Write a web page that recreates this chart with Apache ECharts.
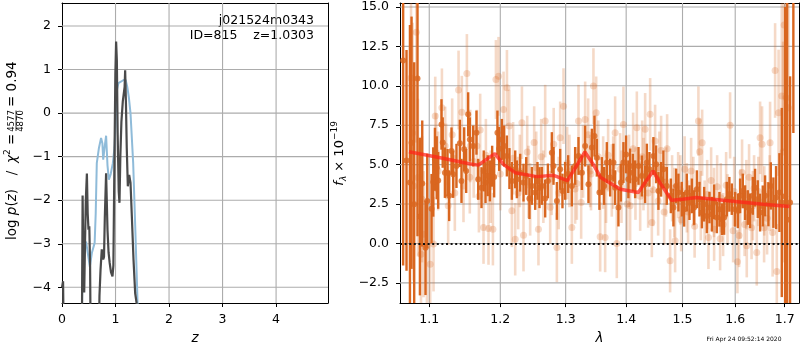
<!DOCTYPE html>
<html><head><meta charset="utf-8">
<script src="https://cdn.jsdelivr.net/npm/echarts@6/dist/echarts.min.js"></script>
<style>html,body{margin:0;padding:0;background:#fff}#c{width:800px;height:350px}</style>
</head><body><div id="c"></div>
<script>
// ---------- tick labels ----------
const zTicks = [0, 1, 2, 3, 4];
const logpTicks = [-4, -3, -2, -1, 0, 1, 2];
const lamTicks = [1.1, 1.2, 1.3, 1.4, 1.5, 1.6, 1.7];
const fluxTicks = [-2.5, 0, 2.5, 5, 7.5, 10, 12.5, 15];

// ---------- left panel: log p(z) ----------
const zBlue = [0.36,0.375,0.39,0.42,0.45,0.48,0.52,0.56,0.61,0.63,0.65,0.69,0.73,0.755,0.77,0.795,0.824,0.85,0.875,0.91,0.95,0.98,1.0,1.02,1.055,1.1,1.15,1.19,1.22,1.25,1.28,1.33,1.37,1.41,1.43];
const logpBlue = [-6,-4.3,-3.36,-3.1,-2.95,-3.2,-3.53,-3.2,-2.98,-2.3,-1.15,-0.8,-0.57,-0.7,-1.07,-0.8,-0.52,-1.2,-1.53,-1.4,-1.15,-0.8,-0.3,0.5,0.69,0.72,0.76,0.76,0.6,0.35,0.0,-1.15,-2.68,-4.28,-6];
const zDark = [0.0,0.02,0.04,0.36,0.375,0.385,0.40,0.415,0.43,0.445,0.465,0.48,0.495,0.51,0.525,0.54,0.68,0.70,0.72,0.743,0.77,0.785,0.80,0.824,0.85,0.87,0.89,0.915,0.943,0.96,0.978,0.997,1.011,1.025,1.04,1.06,1.074,1.09,1.11,1.136,1.155,1.17,1.18,1.195,1.21,1.23,1.255,1.28,1.305,1.336,1.367,1.398,1.42];
const logpDark = [-4.0,-3.86,-6,-6,-4.3,-1.89,-3.5,-4.12,-3.0,-2.0,-1.39,-2.3,-2.68,-2.6,-3.5,-6,-6,-4.2,-3.6,-3.13,-3.36,-3.3,-2.4,-1.38,-2.68,-3.2,-3.43,-3.65,-3.75,-3.5,-1.3,0.9,1.64,1.2,-0.5,-1.8,-2.06,-1.0,-0.2,0.27,0.3,0.6,0.98,0.2,-0.8,-1.68,-1.42,-1.6,-2.37,-3.36,-4.13,-4.4,-6];

// ---------- right panel: spectrum (dark points) ----------
const lamA = [1.0654,1.0698,1.0743,1.0764,1.0799,1.0843,1.0875,1.0906,1.0950,1.0973,
1.1031,1.1054,1.1077,1.1101,1.1121,1.1166,1.1183,1.1213,1.1249,1.1272,
1.1304,1.1327,1.1373,1.1420,1.1443,1.1481,1.1509,1.1537,1.1561,1.1608,
1.1655,1.1680,1.1727,1.1759,1.1785,1.1816,1.1848,1.1881,1.1910,1.1958,
1.1983,1.2023,1.2057,1.2097,1.2135,1.2171,1.2221,1.2246,1.2296,1.2346,
1.2387,1.2436,1.2473,1.2524,1.2559,1.2590,1.2627,1.2678,1.2720,1.2782,
1.2808,1.2861,1.2913,1.2949,1.2992,1.3040,1.3099,1.3152,1.3206,1.3261,
1.3314,1.3368,1.3424,1.3467,1.3506,1.3549,1.3589,1.3627,1.3672,1.3728,
1.3783,1.3812,1.3868,1.3909,1.3953,1.3999,1.4038,1.4068,1.4115,1.4155,
1.4213,1.4272,1.4329,1.4359,1.4405,1.4475,1.4523,1.4564,1.4612,1.4653,
1.4714,1.4787,1.4834,1.4883,1.4925,1.4987,1.5030,1.5079,1.5128,1.5173,
1.5215,1.5266,1.5315,1.5360,1.5403,1.5454,1.5503,1.5549,1.5592,1.5644,
1.5694,1.5740,1.5784,1.5836,1.5886,1.5933,1.5998,1.6051,1.6096,1.6149,
1.6195,1.6248,1.6294,1.6348,1.6394,1.6448,1.6495,1.6549,1.6596,1.6664,
1.6713,1.6766,1.6821,1.6890,1.6939,1.7008,1.7050,1.7112,1.7181];
const fluxA = [11.6,5.27,3.86,6.39,2.49,10.46,1.71,3.8,-0.27,2.7,
2.21,3.9,5.34,4.8,4.0,7.55,6.4,4.49,4.49,3.02,
5.86,4.39,4.92,6.35,3.97,5.97,4.6,8.19,6.6,6.18,
7.03,4.07,3.54,4.6,3.86,4.3,3.97,4.9,4.22,7.03,
6.0,6.6,6.18,5.55,4.75,3.97,4.7,4.07,4.49,3.86,
4.28,2.85,3.65,3.23,3.97,3.54,3.65,2.85,3.97,5.76,
4.92,2.7,4.7,3.33,3.97,4.4,3.65,4.92,5.55,4.49,
6.18,3.76,6.08,6.81,5.44,3.23,4.28,3.65,5.13,4.18,
5.13,3.54,2.28,3.86,5.13,5.65,4.07,4.92,4.49,4.07,
4.92,4.28,3.76,5.13,4.7,5.55,5.02,3.33,4.07,4.7,
3.65,3.02,2.28,3.65,3.23,2.81,2.17,3.23,2.59,3.02,
2.28,3.44,2.81,1.96,2.49,1.75,2.28,1.86,2.64,1.65,
2.17,1.54,1.65,2.81,3.12,2.81,2.17,2.07,3.02,3.33,
2.59,2.28,2.07,3.02,3.54,2.81,1.96,2.38,3.02,2.49,
3.65,2.59,2.91,3.23,2.6,3.0,1.5,2.6,16];
const errA = [13,7,10,8,9,10,5,4,3,3,
2.2,2.2,2,2,1.8,1.6,1.6,1.6,1.5,1.6,
1.5,1.5,1.4,1.5,1.4,1.4,1.4,1.4,1.4,1.3,
1.4,1.3,1.3,1.3,1.3,1.3,1.3,1.3,1.3,1.4,
1.4,1.3,1.3,1.3,1.3,1.2,1.2,1.2,1.2,1.2,
1.2,1.3,1.2,1.1,1.2,1.3,1.2,1.2,1.1,1.3,
1.2,1.2,1.3,1.1,1.2,1.2,1.3,1.2,1.2,1.1,
1.3,1.2,1.2,1.3,1.2,1.1,1.2,1.2,1.3,1.2,
1.2,1.1,1.2,1.2,1.3,1.2,1.2,1.1,1.2,1.2,
1.2,1.3,1.2,1.2,1.1,1.2,1.2,1.2,1.1,1.2,
1.2,1.1,1.2,1.1,1.2,1.1,1.1,1.2,1.1,1.1,
1.1,1.2,1.1,1.0,1.1,1.1,1.0,1.1,1.1,1.0,
1.1,1.0,1.1,1.1,1.1,1.0,1.1,1.1,1.1,1.1,
1.1,1.1,1.1,1.2,1.2,1.2,1.2,1.3,1.3,1.4,
1.5,1.6,2.0,2.5,6,12,14,8,9];

// ---------- right panel: spectrum (light points) ----------
const lamB = [1.0757,1.0778,1.0791,1.0827,1.0849,1.0889,1.0903,1.0924,1.0969,1.1013,
1.1058,1.1081,1.1094,1.1172,1.1217,1.1258,1.1313,1.1402,1.1448,1.1471,
1.1519,1.1566,1.1615,1.1661,1.1708,1.1756,1.1828,1.1892,1.1936,1.1974,
1.2048,1.2098,1.2132,1.2171,1.2221,1.2266,1.2322,1.2346,1.2402,1.2447,
1.2508,1.2574,1.2616,1.2678,1.2756,1.2811,1.2861,1.2913,1.2966,1.3024,
1.3099,1.3152,1.3206,1.3249,1.3314,1.3363,1.3396,1.3450,1.3495,1.3561,
1.3611,1.3644,1.3694,1.3756,1.3812,1.3840,1.3897,1.3953,1.4016,1.4068,
1.4120,1.4184,1.4242,1.4277,1.4329,1.4382,1.4417,1.4447,1.4505,1.4559,
1.4612,1.4666,1.4720,1.4774,1.4810,1.4865,1.4920,1.4975,1.5039,1.5103,
1.5159,1.5224,1.5295,1.5318,1.5365,1.5412,1.5484,1.5535,1.5592,1.5650,
1.5707,1.5765,1.5823,1.5900,1.5959,1.6043,1.6076,1.6135,1.6185,1.6228,
1.6274,1.6324,1.6374,1.6428,1.6495,1.6535,1.6576,1.6637,1.6698,1.6750,
1.6801,1.6836,1.6873,1.6939,1.6966,1.6987,1.7029,1.7077,
1.1120,1.1230,1.1350,1.1560,1.1690,1.1790,1.1860,1.2000,1.2190,1.2290,
1.2420,1.2540,1.2650,1.2780,1.2890,1.3060,1.3180,1.3280,1.3410,1.3530,
1.3660,1.3780,1.3920,1.4050,1.4160,1.4300,1.4470,1.4580,1.4700,1.4850,
1.4960,1.5080,1.5200,1.5340,1.5460,1.5590,1.5720,1.5850,1.5980,1.6100,
1.6220,1.6350,1.6460,1.6580,1.6690];
const fluxB = [10.5,7.0,3.65,13.4,4.18,-0.68,2.8,0.59,-0.15,-1.31,
-0.04,8.08,5.76,8.6,6.18,2.4,6.9,9.73,8.33,3.65,
10.78,6.18,5.2,6.18,7.2,1.01,0.95,0.91,10.4,10.6,
8.5,9.87,7.45,2.07,0.27,3.2,7.66,0.53,5.8,2.8,
6.4,0.91,5.5,7.76,2.3,6.3,-0.25,6.7,8.71,5.1,
1.01,3.45,7.76,2.6,7.87,6.9,4.6,9.98,8.29,0.42,
4.5,0.38,5.6,4.0,7.03,0.0,4.7,7.55,2.5,2.4,
6.0,7.34,3.0,5.5,7.24,3.2,8.19,1.33,6.5,2.7,
5.9,2.0,6.0,-1.1,3.5,0.17,3.7,1.5,4.7,2.0,
4.6,1.1,7.76,5.82,6.39,2.0,0.38,4.0,0.9,3.6,
0.3,1.2,3.7,7.49,0.8,-1.16,0.5,4.5,1.2,-0.15,
4.2,1.0,3.5,-0.57,6.7,6.3,1.0,1.6,6.39,0.7,
10.97,-1.77,8.29,9.35,5.8,13.86,9.24,8.6,
4.6,5.2,3.2,4.2,3.0,5.6,3.6,4.4,5.4,4.6,
3.9,4.8,3.6,4.1,3.2,4.6,3.8,5.2,4.4,5.5,
3.6,4.5,3.6,4.6,3.8,4.4,3.4,4.8,3.9,2.6,
3.4,2.9,3.3,2.4,3.1,2.6,2.9,2.2,3.3,2.5,
3.1,2.4,3.3,2.7,3.2];
const errB = [6,7,6,7,5,4,4,4,4,3.5,
3,2.5,2.5,2.5,2.5,2.5,2.3,2.5,2.3,2.3,
2.5,2.3,2.3,2.3,2.3,2.3,2.3,2.3,2.5,2.5,
2.4,2.4,2.3,2.3,2.3,2.3,2.3,2.3,2.3,2.3,
2.3,2.3,2.4,2.3,2.3,2.3,2.2,2.3,2.4,2.3,
2.3,2.2,2.3,2.3,2.4,2.3,2.3,2.4,2.3,2.2,
2.3,2.2,2.3,2.3,2.3,2.2,2.3,2.4,2.3,2.2,
2.3,2.3,2.2,2.3,2.3,2.2,2.3,2.2,2.3,2.2,
2.2,2.1,2.2,2.0,2.1,2.0,2.1,2.0,2.1,2.0,
2.1,2.0,2.2,2.1,2.1,2.0,2.0,2.1,2.0,2.0,
2.0,2.0,2.1,2.1,2.0,2.0,2.0,2.1,2.0,2.0,
2.1,2.0,2.1,2.1,2.3,2.4,2.2,2.3,2.6,2.8,
3,3,4,6,7,8,8,7,
2.5,2.4,2.4,2.3,2.3,2.3,2.3,2.3,2.3,2.3,
2.3,2.3,2.3,2.3,2.3,2.3,2.3,2.3,2.3,2.3,
2.3,2.3,2.3,2.3,2.3,2.3,2.3,2.3,2.2,2.2,
2.2,2.2,2.2,2.2,2.2,2.2,2.2,2.2,2.2,2.2,
2.2,2.2,2.2,2.2,2.4];

// ---------- right panel: model ----------
const lamModel = [1.073,1.115,1.157,1.168,1.192,1.205,1.222,1.255,1.281,1.303,1.331,1.345,1.357,1.39,1.421,1.447,1.459,1.48,1.50,1.526,1.59,1.656,1.71];
const fluxModel = [5.82,5.44,5.04,4.97,5.70,5.0,4.49,4.24,4.32,3.99,5.80,5.0,4.18,3.44,3.23,4.6,3.86,2.74,2.80,2.91,2.70,2.49,2.34];

// ---------- build ----------
const FONT = 'DejaVu Sans';
const minus = s => String(s).replace('-', '\u2212');
const zip2 = (a, b) => a.map((v, i) => [v, b[i]]);
const zip3 = (a, b, c) => a.map((v, i) => [v, b[i], c[i]]);

const darkOrange = '#d9661f';
const lightBar = 'rgba(217,102,31,0.25)';
const lightDot = 'rgba(217,102,31,0.30)';
const GRIDC = 'rgb(172,172,172)';

function errBars(data, color, width, z) {
  return {
    type: 'custom', xAxisIndex: 1, yAxisIndex: 1, clip: true, silent: true, z: z,
    data: data, encode: { x: 0, y: 1 },
    renderItem: function (params, api) {
      const x = api.value(0), y = api.value(1), e = api.value(2);
      const p1 = api.coord([x, y - e]), p2 = api.coord([x, y + e]);
      return { type: 'line', shape: { x1: p1[0], y1: p1[1], x2: p2[0], y2: p2[1] },
               style: { stroke: color, lineWidth: width } };
    }
  };
}
function gridSeries(idx, xTicks, yTicks, xr, yr) {
  const out = [];
  const mk = data => ({ type: 'line', xAxisIndex: idx, yAxisIndex: idx, data: data, showSymbol: false, symbol: 'none',
    clip: false, silent: true, z: 2, lineStyle: { color: GRIDC, width: 1.1, opacity: 1 }, itemStyle: { color: GRIDC } });
  xTicks.forEach(v => out.push(mk([[v, yr[0]], [v, yr[1]]])));
  yTicks.forEach(v => out.push(mk([[xr[0], v], [xr[1], v]])));
  return out;
}

const axisCommon = {
  axisLine: { show: true, onZero: false, lineStyle: { color: '#000', width: 1 } },
  axisTick: { show: true, length: 4, lineStyle: { color: '#000', width: 1 } },
  splitLine: { show: false },
  axisLabel: { color: '#000', fontFamily: FONT, fontSize: 12.5 }
};
function ax(extra, ticks, fmt, margin) {
  const o = JSON.parse(JSON.stringify(axisCommon));
  Object.assign(o, extra);
  o.axisLabel.customValues = ticks;
  o.axisLabel.formatter = fmt;
  o.axisLabel.margin = margin;
  o.axisLabel.showMinLabel = true; o.axisLabel.showMaxLabel = true;
  o.axisTick.customValues = ticks;
  return o;
}
// frame-only axes on the top and right of each panel
function frameAxis(extra) {
  return Object.assign({ axisLine: { show: true, onZero: false, lineStyle: { color: '#000', width: 1 } },
    axisTick: { show: false }, axisLabel: { show: false }, splitLine: { show: false } }, extra);
}

const X0 = [0, 4.97], Y0 = [-4.36, 2.527], X1 = [1.0613, 1.730], Y1 = [-3.78, 15.25];

const option = {
  animation: false,
  textStyle: { fontFamily: FONT },
  grid: [
    { left: 62, top: 3, width: 266, height: 301 },
    { left: 400, top: 3, width: 399, height: 301 }
  ],
  xAxis: [
    ax({ type: 'value', gridIndex: 0, min: X0[0], max: X0[1],
         name: 'z', nameLocation: 'middle', nameGap: 28,
         nameTextStyle: { fontFamily: FONT, fontStyle: 'italic', fontSize: 13.5, color: '#000' } },
       zTicks, v => minus(Math.round(v)), 10),
    ax({ type: 'log', logBase: 10, gridIndex: 1, min: X1[0], max: X1[1],
         name: 'λ', nameLocation: 'middle', nameGap: 27,
         nameTextStyle: { fontFamily: FONT, fontStyle: 'italic', fontSize: 13.5, color: '#000' } },
       lamTicks, v => (v < 0.5 ? Math.pow(10, v) : v).toFixed(1), 10),
    frameAxis({ type: 'value', gridIndex: 0, position: 'top', min: X0[0], max: X0[1] }),
    frameAxis({ type: 'value', gridIndex: 1, position: 'top', min: 0, max: 1 })
  ],
  yAxis: [
    ax({ type: 'value', gridIndex: 0, min: Y0[0], max: Y0[1] }, logpTicks, v => minus(Math.round(v)), 11),
    ax({ type: 'value', gridIndex: 1, min: Y1[0], max: Y1[1] }, fluxTicks, v => minus(Number(v).toFixed(1)), 11),
    frameAxis({ type: 'value', gridIndex: 0, position: 'right', min: Y0[0], max: Y0[1] }),
    frameAxis({ type: 'value', gridIndex: 1, position: 'right', min: Y1[0], max: Y1[1] })
  ],
  series: [].concat(
    gridSeries(0, zTicks.filter(v => v > 0), logpTicks, X0, Y0),
    gridSeries(1, lamTicks, fluxTicks, X1, Y1),
    [
    { type: 'line', xAxisIndex: 0, yAxisIndex: 0, data: zip2(zBlue, logpBlue), showSymbol: false, clip: true,
      lineStyle: { color: '#8fbbd9', width: 2 }, z: 3, silent: true },
    { type: 'line', xAxisIndex: 0, yAxisIndex: 0, data: zip2(zDark, logpDark), showSymbol: false, clip: true,
      lineStyle: { color: '#4a4a4a', width: 2.2 }, z: 4, silent: true },
    errBars(zip3(lamB, fluxB, errB), lightBar, 2.6, 3),
    { type: 'scatter', xAxisIndex: 1, yAxisIndex: 1, data: zip2(lamB, fluxB), symbol: 'circle', symbolSize: 7,
      itemStyle: { color: lightDot }, z: 3, silent: true },
    errBars(zip3(lamA, fluxA, errA), darkOrange, 2.4, 4),
    { type: 'scatter', xAxisIndex: 1, yAxisIndex: 1, data: zip2(lamA, fluxA), symbol: 'circle', symbolSize: 6,
      itemStyle: { color: darkOrange }, z: 4, silent: true,
      markLine: { silent: true, symbol: ['none', 'none'], label: { show: false }, animation: false,
        lineStyle: { color: '#111', type: [2, 2.6], width: 1.8 }, data: [{ yAxis: 0 }] } },
    { type: 'line', xAxisIndex: 1, yAxisIndex: 1, data: zip2(lamModel, fluxModel), showSymbol: false, clip: true,
      lineStyle: { color: 'rgba(255,35,25,0.72)', width: 3.5 }, z: 5, silent: true }
    ]),
  graphic: [
    { type: 'text', x: 314, y: 20.5, silent: true,
      style: { text: 'j021524m0343', font: '12.5px "DejaVu Sans"', fill: '#000', align: 'right', textAlign: 'right', verticalAlign: 'middle', textVerticalAlign: 'middle' } },
    { type: 'text', x: 314, y: 35.5, silent: true,
      style: { text: 'ID=815    z=1.0303', font: '12.5px "DejaVu Sans"', fill: '#000', align: 'right', textAlign: 'right', verticalAlign: 'middle', textVerticalAlign: 'middle' } },
    { type: 'text', x: 744, y: 339.5, silent: true,
      style: { text: 'Fri Apr 24 09:52:14 2020', font: '6px "DejaVu Sans"', fill: '#000', align: 'center', textAlign: 'center', verticalAlign: 'middle', textVerticalAlign: 'middle' } },
    { type: 'group', x: 0, y: 350, rotation: Math.PI / 2, silent: true, children: [
      { type: 'text', x: 110, y: 12.5, style: { text: '{n|log }{i|p}{n|(}{i|z}{n|)}', fill: '#000', align: 'left', verticalAlign: 'middle',
          rich: { n: { fontFamily: FONT, fontSize: 13.5, lineHeight: 16 }, i: { fontFamily: FONT, fontStyle: 'italic', fontSize: 13.5, lineHeight: 16 } } } },
      { type: 'text', x: 177, y: 12.5, style: { text: '/', font: '13.5px "DejaVu Sans"', fill: '#000', align: 'center', verticalAlign: 'middle' } },
      { type: 'text', x: 187, y: 12.5, style: { text: '{i|χ}{s|2}{n| =}', fill: '#000', align: 'left', verticalAlign: 'middle',
          rich: { n: { fontFamily: FONT, fontSize: 13.5, lineHeight: 18 }, i: { fontFamily: FONT, fontStyle: 'italic', fontSize: 13.5, lineHeight: 18 },
                  s: { fontFamily: FONT, fontSize: 9, lineHeight: 10, verticalAlign: 'top' } } } },
      { type: 'text', x: 229, y: 12, style: { text: '4577', font: '8.5px "DejaVu Sans"', fill: '#000', align: 'center', verticalAlign: 'middle' } },
      { type: 'line', shape: { x1: 219, y1: 16, x2: 239.5, y2: 16 }, style: { stroke: '#000', lineWidth: 0.8 } },
      { type: 'text', x: 229, y: 20.5, style: { text: '4870', font: '8.5px "DejaVu Sans"', fill: '#000', align: 'center', verticalAlign: 'middle' } },
      { type: 'text', x: 243, y: 12.5, style: { text: '= 0.94', font: '13.5px "DejaVu Sans"', fill: '#000', align: 'left', verticalAlign: 'middle' } },
      { type: 'text', x: 196.6, y: 339.5, style: { text: '{i|f}{sub|λ}{n| × 10}{sup|−19}', fill: '#000', align: 'center', verticalAlign: 'middle',
          rich: { n: { fontFamily: FONT, fontSize: 13, lineHeight: 18 }, i: { fontFamily: FONT, fontStyle: 'italic', fontSize: 13, lineHeight: 18 },
                  sub: { fontFamily: FONT, fontStyle: 'italic', fontSize: 9, lineHeight: 10, verticalAlign: 'bottom' },
                  sup: { fontFamily: FONT, fontSize: 9, lineHeight: 10, verticalAlign: 'top' } } } }
    ] }
  ]
};

const chart = echarts.init(document.getElementById('c'), null, { renderer: 'canvas' });
chart.setOption(option);
</script>
</body></html>
